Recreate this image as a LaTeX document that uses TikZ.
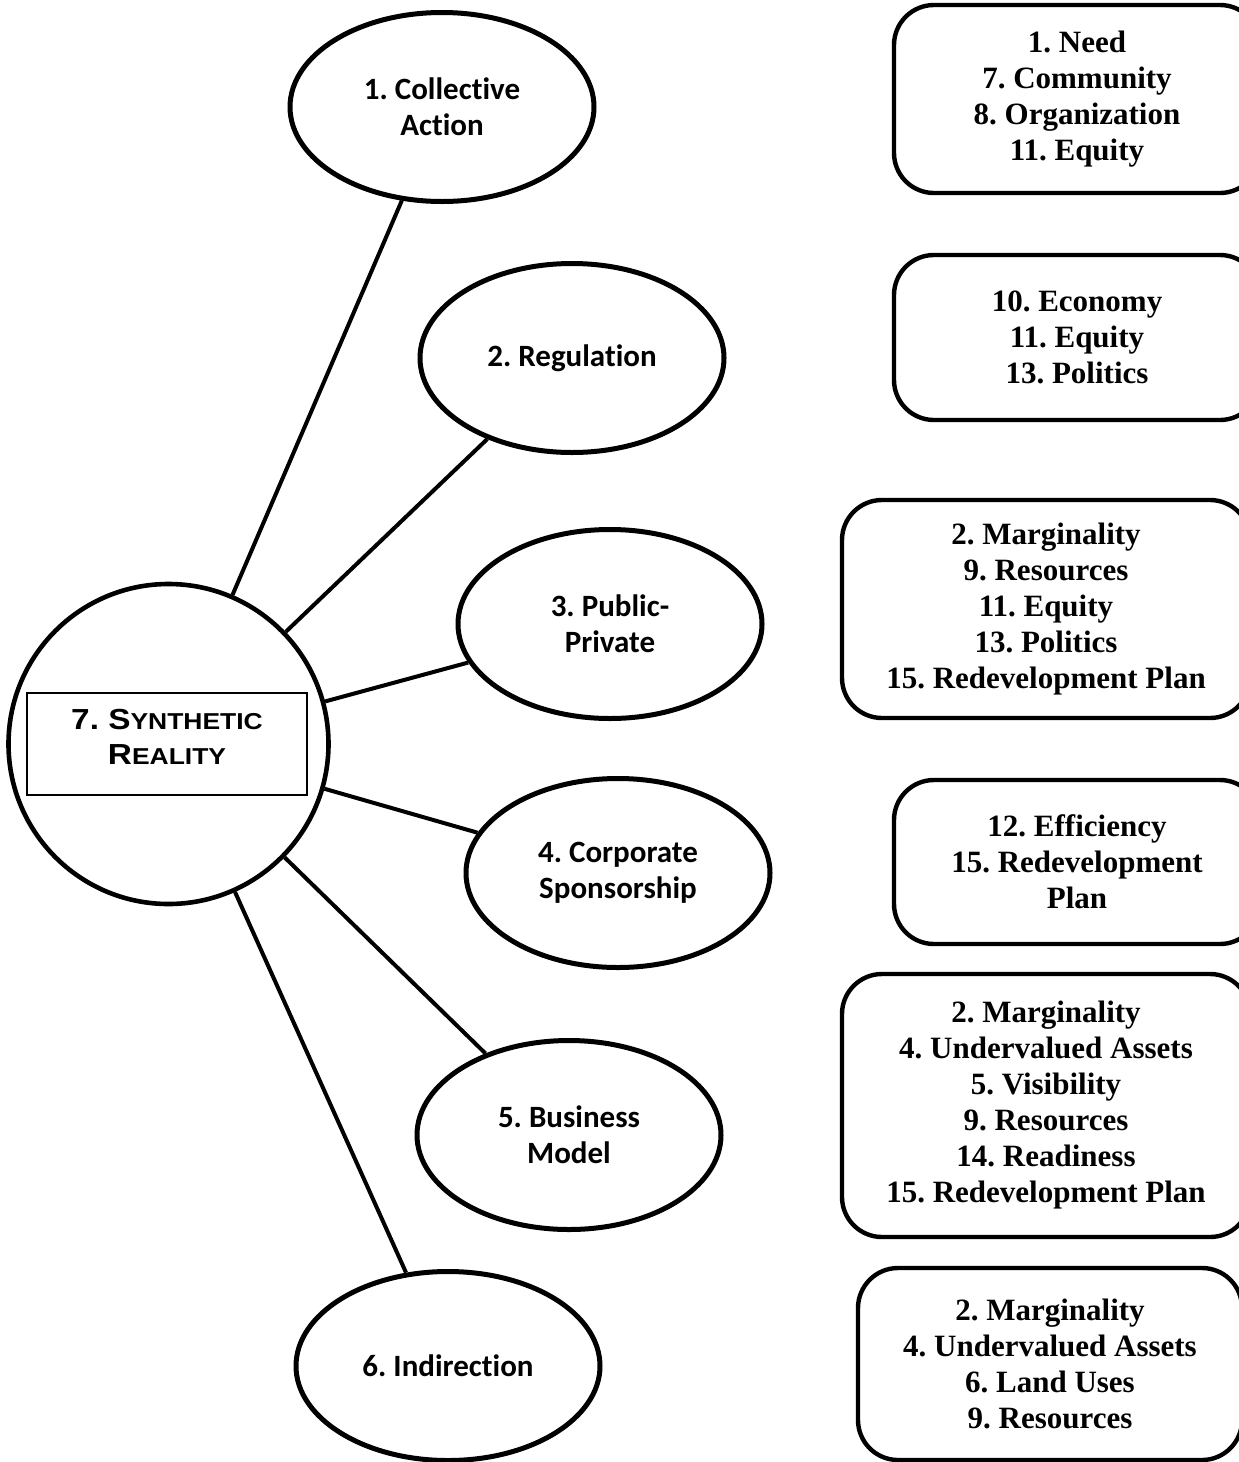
\documentclass[tikz,border=0pt]{standalone}
\usepackage{fontspec}
\setmainfont{Liberation Serif}
\newfontfamily\ellfont[RawFeature=-liga]{Carlito}
\newfontfamily\boxfont{Liberation Serif}
\newfontfamily\capfont[FakeStretch=1.15]{Liberation Sans}
\usetikzlibrary{shapes.geometric}

\tikzset{
  topic/.style={ellipse, draw, line width=2.5pt, minimum width=152pt, minimum height=94.5pt,
    inner sep=0pt, align=center, font=\ellfont\bfseries\fontsize{15.5}{18}\selectfont},
  factors/.style={draw, line width=2.2pt, rounded corners=20pt, align=center, inner sep=0pt,
    font=\boxfont\bfseries\fontsize{15.5}{18}\selectfont},
  link/.style={line width=2pt},
  hub/.style={circle, draw, line width=2.3pt, minimum size=160pt, inner sep=0pt},
  hubframe/.style={draw, line width=0.6pt, minimum width=140pt, minimum height=51pt, inner sep=0pt},
  hubtext/.style={align=center, inner sep=0pt, font=\capfont\bfseries\fontsize{14.5}{17.5}\selectfont}
}

\newcommand{\smc}[1]{{\fontsize{11.5}{17.5}\selectfont #1}}

\begin{document}
\frenchspacing
\begin{tikzpicture}[x=0.5pt, y=-0.5pt]
  \useasboundingbox (0,0) rectangle (1238,1462);

  % central hub with its framed title
  \node[hub] (hub) at (168.5,744) {};
  \node[hubframe] (frame) at (167,744) {};
  \node[hubtext] (title) at (167,737) {7. S\smc{YNTHETIC}\\R\smc{EALITY}};

  % strategies
  \node[topic] (e1) at (442,107)  {1. Collective\\Action};
  \node[topic] (e2) at (572,358)  {2. Regulation};
  \node[topic] (e3) at (610,624)  {3. Public-\\Private};
  \node[topic] (e4) at (618,873)  {4. Corporate\\Sponsorship};
  \node[topic] (e5) at (569,1135) {5. Business\\Model};
  \node[topic] (e6) at (448,1366) {6. Indirection};

  % spokes
  \foreach \e in {e1,e2,e3,e4,e5,e6}
    \draw[link] (hub) -- (\e);

  % factor lists
  \node[factors, minimum width=183pt, minimum height=94pt] (b1) at (1077,99)
    {1. Need\\7. Community\\8. Organization\\11. Equity};
  \node[factors, minimum width=183pt, minimum height=82.5pt] (b2) at (1077,337.5)
    {10. Economy\\11. Equity\\13. Politics};
  \node[factors, minimum width=204pt, minimum height=109pt] (b3) at (1046,609)
    {2. Marginality\\9. Resources\\11. Equity\\13. Politics\\15. Redevelopment Plan};
  \node[factors, minimum width=183pt, minimum height=82pt] (b4) at (1077,862)
    {12. Efficiency\\15. Redevelopment\\Plan};
  \node[factors, minimum width=204pt, minimum height=131.5pt] (b5) at (1046,1105.5)
    {2. Marginality\\4. Undervalued Assets\\5. Visibility\\9. Resources\\14. Readiness\\15. Redevelopment Plan};
  \node[factors, minimum width=192pt, minimum height=96pt] (b6) at (1050,1364)
    {2. Marginality\\4. Undervalued Assets\\6. Land Uses\\9. Resources};
\end{tikzpicture}
\end{document}
